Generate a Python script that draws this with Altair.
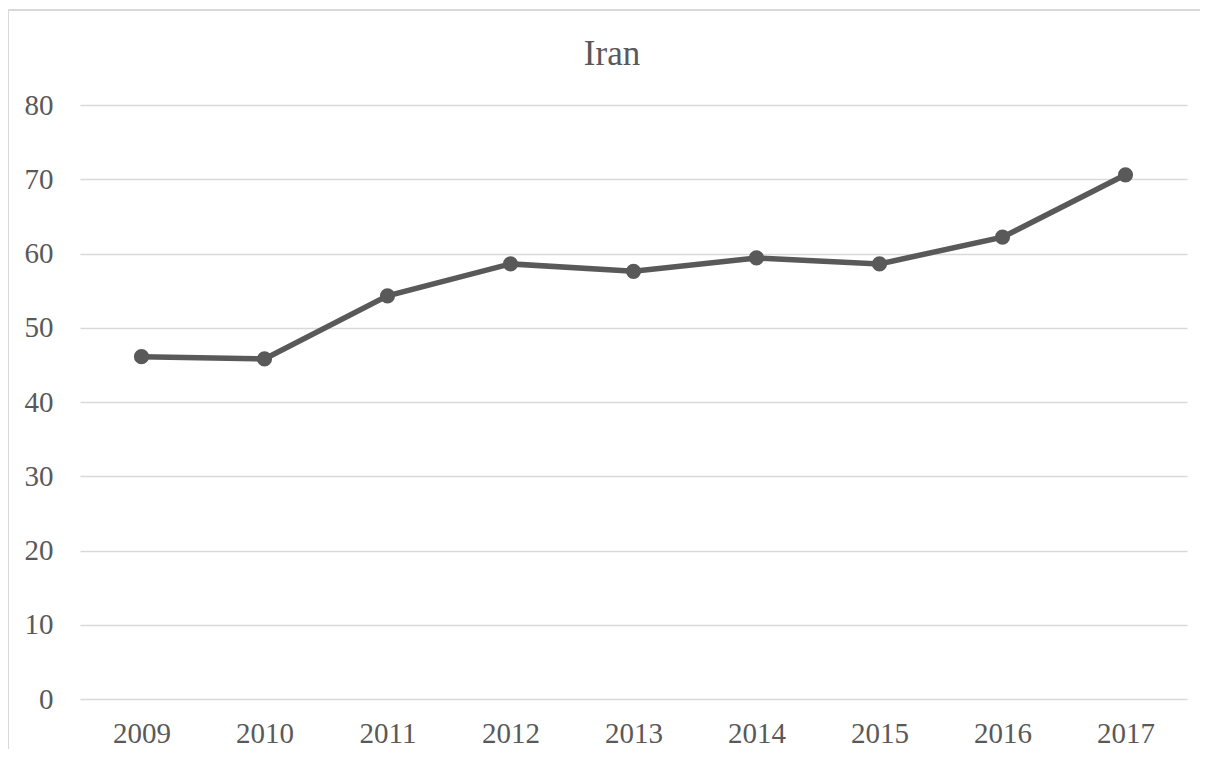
import altair as alt
import pandas as pd

years = ["2009", "2010", "2011", "2012", "2013", "2014", "2015", "2016", "2017"]
values = [46.1, 45.8, 54.3, 58.6, 57.6, 59.4, 58.6, 62.2, 70.6]
title_text = "Iran"

df = pd.DataFrame({"year": years, "value": values})

FONT = "Liberation Serif"
GRAY = "#595959"
GRID = "#d9d9d9"

x_enc = alt.X("year:O", sort=years,
              scale=alt.Scale(type="point", padding=0.5),
              axis=alt.Axis(title=None, labelAngle=0, ticks=False, domain=False,
                            labelPadding=20, labelFont=FONT, labelFontSize=29,
                            labelColor=GRAY, grid=False))
y_enc = alt.Y("value:Q", scale=alt.Scale(domain=[0, 80], nice=False),
              axis=alt.Axis(title=None, values=list(range(0, 81, 10)), ticks=False,
                            domain=False, labelPadding=27, labelFont=FONT,
                            labelFontSize=29, labelColor=GRAY, grid=True,
                            gridColor=GRID, gridWidth=1.5))

one = pd.DataFrame({"a": [0]})
frame_top = alt.Chart(one).mark_rule(color=GRID, strokeWidth=2, clip=False).encode(
    x=alt.value(-72), x2=alt.value(1200), y=alt.value(-95))
frame_left = alt.Chart(one).mark_rule(color=GRID, strokeWidth=2, clip=False).encode(
    x=alt.value(-72), y=alt.value(-95), y2=alt.value(720))

title = alt.Chart(pd.DataFrame({"t": [title_text]})).mark_text(
    font=FONT, fontSize=35, color=GRAY, baseline="alphabetic", align="center"
).encode(text="t:N", x=alt.value(532), y=alt.value(-40))

line = alt.Chart(df).mark_line(color=GRAY, strokeWidth=5.5).encode(x=x_enc, y=y_enc)
pts = alt.Chart(df).mark_point(filled=True, color=GRAY, size=230, opacity=1).encode(x=x_enc, y=y_enc)

chart = alt.layer(frame_top, frame_left, title, line, pts).properties(
    width=1107, height=594,
    autosize=alt.AutoSizeParams(type="none"),
    padding={"left": 72, "top": 97, "right": 13, "bottom": 50},
).configure_view(stroke=None)

chart.save("out.html", embed_options={"renderer": "svg", "actions": False})
